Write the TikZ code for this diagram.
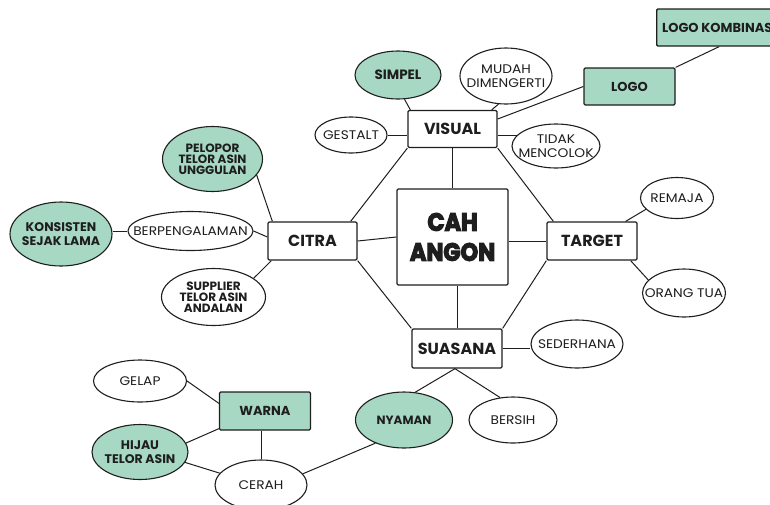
\documentclass[tikz,border=0pt]{standalone}
\usepackage{fontspec}
\setmainfont{Poppins}
\newfontfamily\heavyfont{Poppins}[FakeStretch=0.9]
\newfontfamily\widefont{Poppins}[FakeStretch=1.1]
\newcommand{\heavyline}[1]{\special{pdf:literal direct 2 Tr 1.1 w}#1}
\usetikzlibrary{shapes.geometric}
\definecolor{mint}{RGB}{166,216,196}
\definecolor{ink}{RGB}{30,30,30}
\begin{document}
\begin{tikzpicture}[x=1pt,y=-1pt,
  every label/.style={align=center, text=ink, inner sep=0pt},
  link/.style={draw=ink, line width=1pt},
  box/.style={rectangle, draw=ink, line width=1.3pt, rounded corners=1.2pt, fill=white, inner sep=0pt, align=center, text=ink, font=\bfseries\fontsize{16}{18}\selectfont},
  gbox/.style={box, fill=mint, font=\bfseries\fontsize{13}{15}\selectfont},
  oval/.style={ellipse, draw=ink, line width=1.1pt, fill=white, inner sep=0pt},
  goval/.style={oval, fill=mint},
  lt/.style={font=\widefont\fontsize{12.5}{14}\selectfont},
  bt/.style={font=\bfseries\fontsize{12.5}{14.5}\selectfont},
  st/.style={font=\bfseries\fontsize{12}{11}\selectfont},
]
\useasboundingbox (0,0) rectangle (770,504);
\clip (0,0) rectangle (770,504);

% main boxes
\node[box, minimum width=111, minimum height=96, font=\heavyfont\bfseries\fontsize{25}{30}\selectfont] (angon) at (452.5,237) {\heavyline{CAH}\\\heavyline{ANGON}};
\node[box, minimum width=89, minimum height=37] (visual) at (452.5,129) {VISUAL};
\node[box, minimum width=89, minimum height=38] (citra) at (312.5,241) {CITRA};
\node[box, minimum width=90, minimum height=38] (target) at (592,241) {TARGET};
\node[box, minimum width=90, minimum height=39] (suasana) at (457,348.5) {SUASANA};
\node[gbox, minimum width=91, minimum height=37] (logo) at (629.5,86.5) {LOGO};
\node[gbox, minimum width=125, minimum height=37, anchor=west] (logokomb) at (656,27.5) {LOGO KOMBINASI};
\node[gbox, minimum width=91, minimum height=38] (warna) at (265,411) {WARNA};

% ellipses
\node[goval, minimum width=86, minimum height=48, label={[font=\bfseries\fontsize{13.5}{15}\selectfont]center:SIMPEL}] (simpel) at (398,75) {};
\node[oval, minimum width=92, minimum height=56, label={[lt]center:{MUDAH\\DIMENGERTI}}] (mudah) at (506,76) {};
\node[oval, minimum width=72, minimum height=36, label={[lt]center:GESTALT}] (gestalt) at (351,135) {};
\node[oval, minimum width=88, minimum height=44, label={[lt]center:{TIDAK\\MENCOLOK}}] (tidak) at (556,146) {};
\node[goval, minimum width=100, minimum height=65, label={[st]center:{PELOPOR\\TELOR ASIN\\UNGGULAN}}] (pelopor) at (212.5,159) {};
\node[goval, minimum width=102, minimum height=64, label={[bt]center:{KONSISTEN\\SEJAK LAMA}}] (konsisten) at (61,234) {};
\node[oval, minimum width=125, minimum height=39, label={[lt]center:BERPENGALAMAN}] (berp) at (190.5,231) {};
\node[oval, minimum width=104, minimum height=57, label={[st]center:{SUPPLIER\\TELOR ASIN\\ANDALAN}}] (supplier) at (213.5,297) {};
\node[oval, minimum width=73, minimum height=41, label={[lt]center:REMAJA}] (remaja) at (677,198) {};
\node[oval, minimum width=83, minimum height=48, label={[lt]center:ORANG TUA}] (orang) at (684,293) {};
\node[oval, minimum width=92, minimum height=48, label={[lt]center:SEDERHANA}] (sederhana) at (577,344) {};
\node[goval, minimum width=97, minimum height=56, label={[font=\bfseries\fontsize{12}{14}\selectfont]center:NYAMAN}] (nyaman) at (404,420) {};
\node[oval, minimum width=88, minimum height=46, label={[lt]center:BERSIH}] (bersih) at (513,420) {};
\node[oval, minimum width=93, minimum height=42, label={[lt]center:GELAP}] (gelap) at (140,381) {};
\node[goval, minimum width=96, minimum height=55, label={[bt]center:{HIJAU\\TELOR ASIN}}] (hijau) at (140,452) {};
\node[oval, minimum width=92, minimum height=50, label={[lt]center:CERAH}] (cerah) at (261,485) {};

% connectors around the centre
\draw[link] (angon.north) -- (visual.south);
\draw[link] (angon.west) -- (citra.east);
\draw[link] (target.west) -- (target.west -| angon.east);
\draw[link] (suasana.north) -- (suasana.north |- angon.south);
\draw[link] (visual.south west) -- ([xshift=-7pt]citra.north east);
\draw[link] (visual.south east) -- ([xshift=7pt]target.north west);
\draw[link] (citra.south east) -- (suasana.north west);
\draw[link] (target.south west) -- (suasana.north east);

% visual
\draw[link] ([xshift=3pt]visual.north west) -- (simpel.-75);
\draw[link] ([xshift=-6pt]visual.north east) -- (mudah.-105);
\draw[link] (gestalt.east) -- (gestalt.east -| visual.west);
\draw[link] (tidak.165) -- (tidak.165 -| visual.east);
\draw[link] ([yshift=10pt]visual.east) -- (logo.west);
\draw[link] (logokomb.south) -- (logo.north east);

% citra
\draw[link] (pelopor.-20) -- ([xshift=5pt]citra.north west);
\draw[link] (berp.east) -- ([yshift=4pt]citra.west);
\draw[link] (berp.west) -- (berp.west -| konsisten.east);
\draw[link] (supplier.25) -- ([xshift=4pt]citra.south west);

% target
\draw[link] (remaja.200) -- ([xshift=-12pt]target.north east);
\draw[link] (orang.160) -- ([xshift=-7pt]target.south east);

% suasana
\draw[link] (suasana.east) -- (suasana.east -| sederhana.west);
\draw[link] ([xshift=-2pt]suasana.south) -- (nyaman.68);
\draw[link] ([xshift=-2pt]suasana.south) -- (bersih.120);

% warna
\draw[link] (gelap.east) -- ([yshift=-12pt]warna.north west);
\draw[link] (hijau.11) -- ([yshift=2pt]warna.south west);
\draw[link] ([xshift=-4pt]warna.south) -- ([xshift=-4pt]warna.south |- cerah.north);
\draw[link] (hijau.-13) -- (cerah.164);
\draw[link] (cerah.15) -- (nyaman.-141);
\end{tikzpicture}
\end{document}
